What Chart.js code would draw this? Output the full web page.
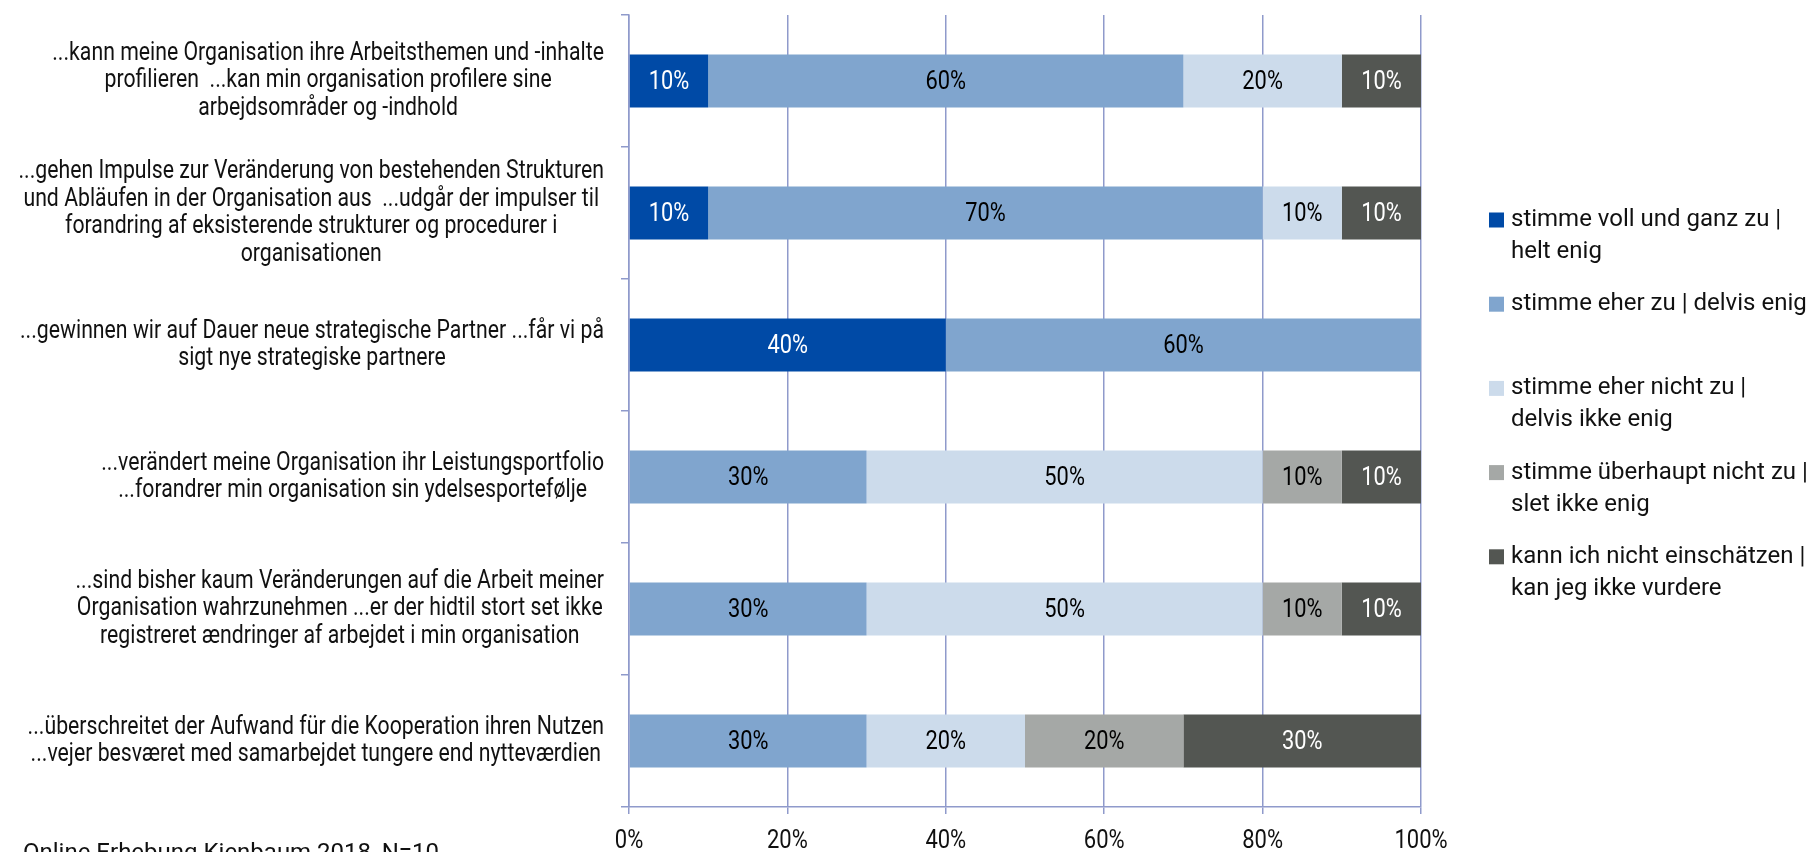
<!DOCTYPE html>
<html lang="de">
<head>
<meta charset="utf-8">
<title>Kooperation – Einschätzung</title>
<script src="https://cdn.jsdelivr.net/npm/chart.js@4.4.1/dist/chart.umd.min.js"></script>
<style>
    html, body { margin: 0; padding: 0; background: #fff; }
    #chartWrap { width: 1806px; height: 852px; }
</style>
</head>
<body>
<div id="chartWrap"><canvas id="reportChart" width="1806" height="852"></canvas></div>
<script>
// statements, one entry per line of the axis label
const categories = [
    ['...kann meine Organisation ihre Arbeitsthemen und -inhalte', 'profilieren  ...kan min organisation profilere sine', 'arbejdsområder og -indhold'],
    ['...gehen Impulse zur Veränderung von bestehenden Strukturen', 'und Abläufen in der Organisation aus  ...udgår der impulser til', 'forandring af eksisterende strukturer og procedurer i', 'organisationen'],
    ['...gewinnen wir auf Dauer neue strategische Partner ...får vi på', 'sigt nye strategiske partnere'],
    ['...verändert meine Organisation ihr Leistungsportfolio', '...forandrer min organisation sin ydelsesportefølje'],
    ['...sind bisher kaum Veränderungen auf die Arbeit meiner', 'Organisation wahrzunehmen ...er der hidtil stort set ikke', 'registreret ændringer af arbejdet i min organisation'],
    ['...überschreitet der Aufwand für die Kooperation ihren Nutzen', '...vejer besværet med samarbejdet tungere end nytteværdien']
];

const seriesNames = [
    ['stimme voll und ganz zu |', 'helt enig'],
    ['stimme eher zu | delvis enig'],
    ['stimme eher nicht zu |', 'delvis ikke enig'],
    ['stimme überhaupt nicht zu |', 'slet ikke enig'],
    ['kann ich nicht einschätzen |', 'kan jeg ikke vurdere']
];

// answer shares in percent, same order as categories
const heltEnig       = [10, 10, 40,  0,  0,  0];
const delvisEnig     = [60, 70, 60, 30, 30, 30];
const delvisIkkeEnig = [20, 10,  0, 50, 50, 20];
const sletIkkeEnig   = [ 0,  0,  0, 10, 10, 20];
const kanIkkeVurdere = [10, 10,  0, 10, 10, 30];

const xTickValues = [0, 20, 40, 60, 80, 100];

const sourceNote = 'Online Erhebung Kienbaum 2018, N=10';

const seriesColors = ['#004aa6', '#80a5ce', '#ccdbeb', '#a5a8a6', '#535652'];
const labelColors  = ['#ffffff', '#000000', '#000000', '#000000', '#ffffff'];
const axisColor = '#8f9acb';
const FONT = 'Roboto, "Noto Sans", sans-serif';

// Roboto squeezed sideways, looks close to a condensed cut
const drawNarrow = (ctx, text, x, y, sx) => {
    ctx.save();
    ctx.translate(x, y);
    ctx.scale(sx, 1);
    ctx.fillText(text, 0, 0);
    ctx.restore();
};

const categoryLabels = {
    id: 'categoryLabels',
    afterDraw(chart) {
        const ctx = chart.ctx;
        const yScale = chart.scales.y;
        const sx = 0.85;
        const lineH = 27.5;
        const right = 604;
        ctx.save();
        ctx.font = '25px ' + FONT;
        ctx.fillStyle = '#111';
        ctx.textAlign = 'center';
        ctx.textBaseline = 'middle';
        categories.forEach((lines, i) => {
            const yc = yScale.getPixelForValue(i);
            const maxW = Math.max(...lines.map(l => ctx.measureText(l).width)) * sx;
            // keep the widest blocks off the left page edge
            const xc = Math.max(right - maxW / 2, 10 + maxW / 2);
            lines.forEach((line, j) => {
                drawNarrow(ctx, line, xc, yc + (j - (lines.length - 1) / 2) * lineH, sx);
            });
        });
        ctx.restore();
    }
};

const xTickLabels = {
    id: 'xTickLabels',
    afterDraw(chart) {
        const ctx = chart.ctx;
        const xScale = chart.scales.x;
        ctx.save();
        ctx.font = '25px ' + FONT;
        ctx.fillStyle = '#111';
        ctx.textAlign = 'center';
        ctx.textBaseline = 'middle';
        xTickValues.forEach(v => {
            drawNarrow(ctx, v + '%', xScale.getPixelForValue(v), 842, 0.88);
        });
        ctx.restore();
    }
};

const valueLabels = {
    id: 'valueLabels',
    afterDatasetsDraw(chart) {
        const ctx = chart.ctx;
        ctx.save();
        ctx.font = '26px ' + FONT;
        ctx.textAlign = 'center';
        ctx.textBaseline = 'middle';
        chart.data.datasets.forEach((ds, di) => {
            const meta = chart.getDatasetMeta(di);
            ctx.fillStyle = labelColors[di];
            meta.data.forEach((bar, i) => {
                const v = ds.data[i];
                if (!v) return;
                const { x, y, base } = bar.getProps(['x', 'y', 'base'], true);
                drawNarrow(ctx, v + '%', (x + base) / 2, y + 1, 0.84);
            });
        });
        ctx.restore();
    }
};

const sideLegend = {
    id: 'sideLegend',
    afterDraw(chart) {
        const ctx = chart.ctx;
        ctx.save();
        ctx.font = '24px ' + FONT;
        ctx.textAlign = 'left';
        ctx.textBaseline = 'middle';
        chart.data.datasets.forEach((ds, i) => {
            const y0 = 220 + i * 84.2;
            ctx.fillStyle = ds.backgroundColor;
            ctx.fillRect(1489, y0 - 7.5, 15, 15);
            ctx.fillStyle = '#111';
            seriesNames[i].forEach((line, j) => ctx.fillText(line, 1511, y0 + j * 32));
        });
        // source line at the very bottom, partly cut off by the page edge
        ctx.font = '24px ' + FONT;
        ctx.textBaseline = 'alphabetic';
        ctx.fillText(sourceNote, 23, 860);
        ctx.restore();
    }
};

document.addEventListener('DOMContentLoaded', () => {

    const values = [heltEnig, delvisEnig, delvisIkkeEnig, sletIkkeEnig, kanIkkeVurdere];

    new Chart(document.getElementById('reportChart').getContext('2d'), {
        type: 'bar',
        data: {
            labels: categories,
            datasets: values.map((data, i) => ({
                label: seriesNames[i].join(' '),
                data: data,
                backgroundColor: seriesColors[i],
                borderWidth: 0,
                barPercentage: 0.4,
                categoryPercentage: 1
            }))
        },
        options: {
            indexAxis: 'y',
            responsive: false,
            animation: false,
            layout: { padding: { left: 621, right: 385, top: 15, bottom: 38 } },
            plugins: {
                legend: { display: false },
                tooltip: { enabled: false }
            },
            scales: {
                x: {
                    stacked: true,
                    min: 0,
                    max: 100,
                    ticks: { display: false, stepSize: 20 },
                    grid: { color: axisColor, lineWidth: 1.5, tickLength: 7 },
                    border: { color: axisColor, width: 1.5 },
                    afterFit: s => { s.height = 7; }
                },
                y: {
                    stacked: true,
                    ticks: { display: false },
                    grid: { drawOnChartArea: false, color: axisColor, lineWidth: 1.5, tickLength: 8 },
                    border: { color: axisColor, width: 1.5 },
                    afterFit: s => { s.width = 8; }
                }
            }
        },
        plugins: [valueLabels, categoryLabels, xTickLabels, sideLegend]
    });

});
</script>
</body>
</html>
